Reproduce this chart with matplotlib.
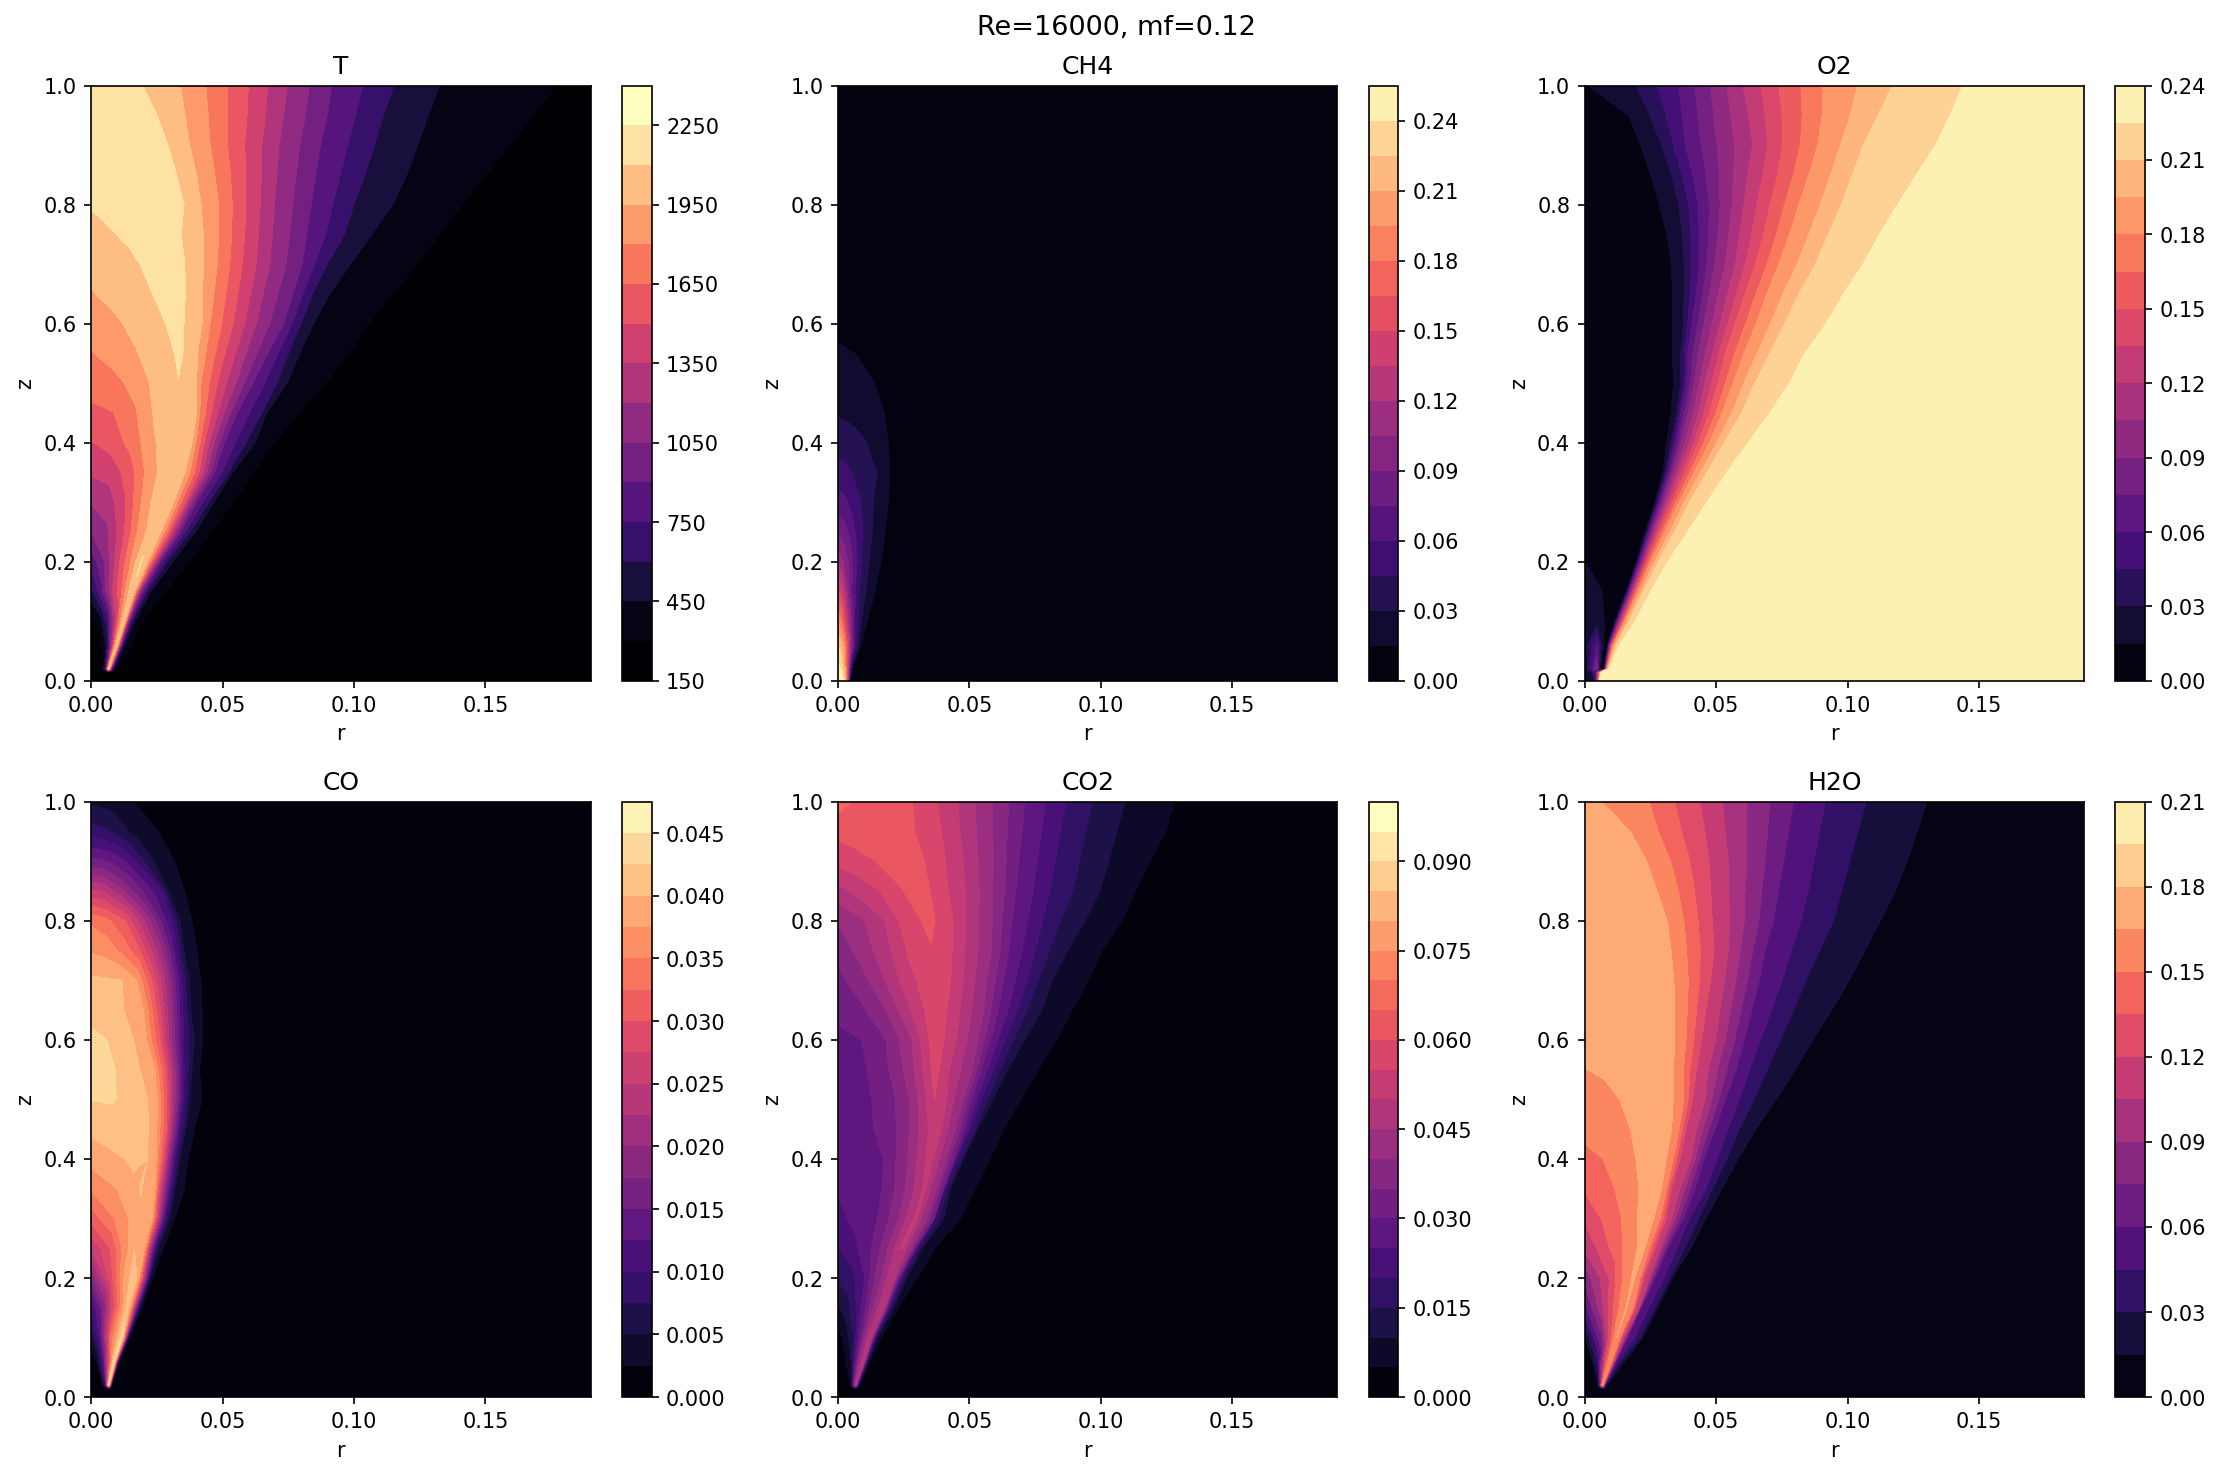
import numpy as np
import matplotlib
matplotlib.use("Agg")
import matplotlib.pyplot as plt

TITLE = "Re=16000, mf=0.12"
R_END = 0.19

# Axial stations shared by most fields, bottom to top.
Z_BASE = [0.0, 0.014]
Z_ROWS = [0.02, 0.06, 0.1, 0.15, 0.2, 0.25, 0.3, 0.35, 0.4, 0.45, 0.5,
          0.55, 0.6, 0.65, 0.7, 0.75, 0.8, 0.85, 0.9, 0.95, 1.0]

# Temperature: radial stations per row, last inner station is the flame ridge.
T_tail = [1950, 1800, 1500, 1200, 900, 600, 450, 300, 160]
T_r = [
    [0, .002, .004, .0055, .0065, .0067, .0069, .0072, .0075, .0078, .0082, .0087, .0100],
    [0, .003, .006, .008, .0095, .0099, .0102, .0106, .0110, .0115, .0120, .0128, .0155],
    [0, .003, .006, .009, .0122, .0128, .0130, .0135, .0139, .0145, .0155, .0166, .0192],
    [0, .0039, .0078, .0116, .0155, .0164, .0169, .0176, .0183, .0195, .0213, .0227, .0284],
    [0, .0048, .0095, .0143, .019, .0213, .0221, .0235, .0248, .0262, .0288, .0310, .0371],
    [0, .0059, .0118, .0176, .0235, .0265, .0279, .0300, .0319, .0340, .0375, .0396, .0457],
    [0, .0064, .0128, .0191, .0255, .0314, .0328, .0357, .0375, .0400, .0448, .0467, .0542],
    [0, .0074, .0148, .0222, .0296, .0357, .0375, .0410, .0440, .0470, .0523, .0537, .0616],
    [0, .0079, .0157, .0236, .0314, .0384, .0398, .0430, .0467, .0506, .0589, .0624, .0697],
    [0, .0083, .0166, .0248, .0331, .0401, .0413, .0457, .0506, .0555, .0649, .0668, .0790],
    [0, .0083, .0166, .0248, .0331, .0401, .0418, .0480, .0550, .0614, .0706, .0745, .0894],
    [0, .0085, .017, .0255, .034, .0405, .0436, .0509, .0588, .0671, .0750, .0793, .0980],
    [0, .0084, .0168, .0251, .0335, .0422, .0453, .0540, .0628, .0732, .0797, .0846, .1055],
    [0, .0082, .0165, .0247, .033, .0424, .0467, .0558, .0654, .0767, .0842, .0907, .1147],
    [0, .0079, .0157, .0236, .0314, .0427, .0480, .0575, .0680, .0802, .0898, .0987, .1240],
    [0, .007, .014, .021, .028, .0427, .0485, .0584, .0689, .0820, .0964, .1067, .1325],
    [0, .0075, .015, .0225, .030, .0418, .0485, .0589, .0697, .0837, .0999, .1147, .1412],
    [0, .0065, .013, .0195, .026, .0401, .0471, .0589, .0706, .0854, .1041, .1200, .1503],
    [0, .005, .010, .015, .022, .0375, .0453, .0584, .0715, .0872, .1078, .1242, .1594],
    [0, .004, .008, .012, .016, .0357, .0445, .0593, .0732, .0898, .1112, .1283, .1681],
    [0, .003, .006, .008, .010, .0340, .0436, .0598, .0745, .0915, .1151, .1325, .1770],
]
T_inner = [
    [160, 160, 170, 700, 2000],
    [170, 260, 500, 1300, 2030],
    [250, 330, 650, 1300, 2050],
    [550, 850, 1320, 1650, 2090],
    [800, 1040, 1400, 1750, 2110],
    [1050, 1170, 1440, 1805, 2060],
    [1210, 1270, 1480, 1800, 2060],
    [1370, 1410, 1580, 1875, 2060],
    [1490, 1560, 1710, 1930, 2070],
    [1605, 1645, 1780, 1985, 2080],
    [1725, 1750, 1845, 2000, 2095],
    [1790, 1860, 1940, 2030, 2125],
    [1860, 1920, 1990, 2075, 2140],
    [1940, 1990, 2050, 2110, 2165],
    [1990, 2035, 2075, 2145, 2190],
    [2050, 2085, 2125, 2175, 2210],
    [2110, 2150, 2190, 2215, 2225],
    [2160, 2170, 2190, 2215, 2230],
    [2190, 2195, 2205, 2220, 2230],
    [2190, 2195, 2205, 2218, 2225],
    [2190, 2192, 2195, 2198, 2200],
]

# Methane: core decaying along the axis, with its own axial stations.
CH4_z = [0, .03, .06, .1, .15, .2, .25, .3, .35, .4, .45, .5, .55, .6, 1.0]
CH4_r = [
    [0, .001, .002, .003, .0035, .004, .0043, .0045, .005, R_END],
    [0, .001, .002, .003, .0038, .0045, .0052, .0062, .0068, R_END],
    [0, .0012, .0025, .0037, .0048, .0058, .0068, .0087, .0095, R_END],
    [0, .0013, .0026, .0038, .0051, .0064, .0089, .0111, .012, R_END],
    [0, .0018, .0035, .0052, .0068, .0085, .0115, .014, .015, R_END],
    [0, .0019, .0038, .0057, .0073, .0089, .0119, .0163, .0175, R_END],
    [0, .0025, .005, .007, .009, .0105, .013, .0179, .0195, R_END],
    [0, .003, .006, .008, .01, .012, .0145, .0191, .021, R_END],
    [0, .003, .0051, .008, .0105, .013, .0149, .0198, .0215, R_END],
    [0, .003, .006, .0085, .0108, .013, .016, .0191, .0205, R_END],
    [0, .004, .007, .01, .012, .014, .016, .0176, .019, R_END],
    [0, .003, .006, .008, .01, .0115, .013, .014, .016, R_END],
    [0, .001, .002, .003, .004, .005, .0058, .0064, .01, R_END],
    [0, .001, .002, .003, .004, .005, .0058, .0064, .01, R_END],
    [0, .001, .002, .003, .004, .005, .0058, .0064, .01, R_END],
]
CH4_v = [
    [.252, .25, .24, .2, .16, .1, .05, .015, .005, 0],
    [.24, .235, .215, .18, .14, .09, .045, .015, .005, 0],
    [.225, .215, .19, .15, .11, .075, .045, .015, .008, 0],
    [.197, .18, .15, .12, .09, .06, .03, .015, .008, 0],
    [.155, .135, .105, .075, .055, .04, .025, .015, .008, 0],
    [.12, .105, .09, .075, .06, .045, .03, .015, .008, 0],
    [.09, .08, .068, .057, .047, .04, .03, .015, .008, 0],
    [.066, .062, .053, .047, .04, .034, .027, .015, .008, 0],
    [.052, .049, .045, .039, .036, .0325, .03, .015, .008, 0],
    [.037, .036, .034, .032, .03, .026, .021, .015, .008, 0],
    [.0285, .0275, .026, .024, .0225, .02, .0175, .015, .008, 0],
    [.022, .0215, .021, .02, .019, .018, .0165, .015, .008, 0],
    [.0165, .0162, .016, .0157, .0155, .0153, .0151, .015, .008, 0],
    [.012, .012, .012, .0115, .011, .0105, .01, .0095, .006, 0],
    [.001, .001, .001, .001, .001, .001, .001, .001, .001, 0],
]

# Oxygen: inner stations cover the fuel side, the rest follow the front out to ambient air.
O2_tail = [.015, .03, .06, .09, .12, .15, .18, .21, .225, .233]
O2_r = [
    [0, .003, .0042, .0048, .0050, .0051, .0052, .0053, .0054, .0055, .0056, .0057, .0058],
    [0, .003, .0042, .0052, .0056, .0057, .0058, .0059, .0060, .0061, .0062, .0063, .0065],
    [0, .0047, .0058, .0064, .0073, .0074, .0076, .0078, .0080, .0082, .0085, .0089, .0094],
    [0, .0047, .0072, .0080, .0086, .0088, .0091, .0095, .0099, .0103, .0109, .0120, .0132],
    [0, .0045, .0074, .0095, .0114, .0118, .0122, .0129, .0135, .0144, .0152, .0168, .0193],
    [0, .0035, .0066, .0105, .0157, .0160, .0167, .0173, .0182, .0190, .0203, .0223, .0251],
    [0, .002, .004, .0085, .0196, .0200, .0206, .0215, .0226, .0236, .0252, .0279, .0317],
    [0, .005, .012, .018, .0229, .0234, .0243, .0254, .0267, .0284, .0305, .0342, .0391],
    [0, .006, .012, .018, .0267, .0272, .0282, .0295, .0312, .0333, .0358, .0399, .0465],
    [0, .006, .012, .018, .0297, .0305, .0317, .0333, .0355, .0383, .0416, .0465, .0540],
    [0, .006, .012, .018, .0312, .0328, .0345, .0366, .0399, .0432, .0474, .0531, .0622],
    [0, .006, .012, .018, .0328, .0350, .0366, .0394, .0432, .0474, .0523, .0597, .0705],
    [0, .006, .012, .018, .0338, .0366, .0388, .0416, .0457, .0507, .0564, .0647, .0779],
    [0, .006, .012, .018, .0333, .0366, .0391, .0432, .0485, .0535, .0606, .0705, .0837],
    [0, .006, .012, .018, .0333, .0375, .0408, .0454, .0515, .0573, .0652, .0762, .0919],
    [0, .006, .012, .018, .0333, .0378, .0424, .0474, .0543, .0610, .0693, .0815, .0985],
    [0, .006, .012, .018, .0330, .0378, .0436, .0495, .0573, .0650, .0738, .0878, .1059],
    [0, .006, .012, .018, .0312, .0371, .0436, .0507, .0589, .0680, .0779, .0927, .1122],
    [0, .006, .012, .018, .0284, .0358, .0432, .0515, .0606, .0705, .0815, .0977, .1191],
    [0, .006, .012, .018, .0251, .0330, .0411, .0512, .0619, .0734, .0853, .1018, .1262],
    [0, .007, .014, .018, .0213, .0292, .0383, .0503, .0639, .0754, .0886, .1060, .1335],
    [0, .004, .008, .012, .0168, .0248, .0370, .0490, .0622, .0751, .0903, .1117, .1390],
    [0, .0003, .0005, .0008, .0010, .0196, .0358, .0479, .0602, .0738, .0906, .1170, .1439],
]
for row in O2_r:
    row.append(R_END)
O2_base_v = [
    [.018, .022, .06, .12, .14, .16, .18, .19, .2, .21, .22, .225, .23, .233],
    [.018, .03, .07, .14, .16, .17, .18, .19, .2, .21, .22, .225, .23, .233],
]
O2_inner = [
    [.016, .09, .015, .008],
    [.02, .06, .015, .01],
    [.019, .022, .015, .008],
    [.0165, .0175, .015, .006],
    [.015, .0135, .01, .004],
    [.008, .006, .004, .004],
    [.004, .004, .004, .004],
    [.003, .003, .003, .004],
    [.003, .003, .003, .004],
    [.003, .003, .003, .004],
    [.003, .003, .003, .004],
    [.003, .003, .003, .004],
    [.003, .003, .003, .004],
    [.003, .003, .003, .004],
    [.003, .003, .003, .004],
    [.003, .003, .003, .004],
    [.003, .003, .004, .006],
    [.003, .004, .006, .009],
    [.004, .005, .007, .011],
    [.006, .007, .009, .012],
    [.0145, .0146, .0147, .0148],
]

# Carbon monoxide: stations and values listed in full for every row.
CO_r = [
    [0, .004, .0055, .0066, .0069, .0071, .0073, .0075, .0076, .0079, R_END],
    [0, .0022, .0045, .0087, .0092, .0095, .0098, .0101, .0104, .0110, R_END],
    [0, .0035, .0075, .0117, .0123, .0128, .0133, .0138, .0142, .0146, R_END],
    [0, .004, .008, .0138, .0148, .0158, .0168, .0178, .0185, .0193, R_END],
    [0, .0082, .0123, .0168, .0181, .0193, .0205, .0218, .0224, .0234, R_END],
    [0, .0072, .0117, .0165, .0203, .0214, .0227, .0243, .0256, .0275, R_END],
    [0, .0089, .0142, .0195, .0231, .0246, .0262, .0281, .0298, .0316, R_END],
    [0, .0098, .0145, .019, .0243, .0256, .0278, .0303, .0319, .0354, R_END],
    [0, .0129, .0175, .0214, .0247, .0272, .0294, .0319, .0338, .037, R_END],
    [0, .008, .015, .0218, .025, .0285, .031, .0338, .036, .0392, R_END],
    [0, .008, .015, .0215, .0252, .0288, .0319, .0351, .0376, .0421, R_END],
    [0, .0091, .014, .0186, .0243, .0281, .0319, .0354, .0383, .0412, R_END],
    [0, .006, .011, .0161, .0212, .0262, .0307, .0351, .0392, .0425, R_END],
    [0, .006, .0125, .0165, .0199, .025, .0303, .0349, .0379, .0422, R_END],
    [0, .006, .0117, .0174, .0231, .0265, .0294, .0345, .0373, .0417, R_END],
    [0, .006, .0125, .0186, .0229, .0269, .03, .0328, .0353, .0402, R_END],
    [0, .005, .0129, .0175, .0224, .0265, .0307, .0338, .036, .0383, R_END],
    [0, .005, .0123, .016, .0195, .0235, .0269, .0292, .0325, .0354, R_END],
    [0, .004, .008, .012, .015, .0167, .02, .0237, .0275, .0316, R_END],
    [0, .003, .006, .009, .012, .0142, .017, .02, .023, .0255, R_END],
    [0, .003, .006, .008, .01, .012, .014, .015, .0161, .02, R_END],
]
CO_v = [
    [0, 0, .01, .0435, .0375, .03, .02, .01, .005, .0025, 0],
    [.001, .0025, .012, .0435, .0375, .03, .02, .01, .005, .0025, 0],
    [.0048, .0125, .033, .0435, .0375, .03, .02, .01, .005, .0025, 0],
    [.0098, .016, .028, .0415, .0375, .03, .02, .01, .005, .0025, 0],
    [.0175, .03, .0375, .0422, .0375, .03, .02, .01, .005, .0025, 0],
    [.025, .03, .035, .0399, .0375, .03, .02, .01, .005, .0025, 0],
    [.031, .035, .0375, .0395, .0375, .03, .02, .01, .005, .0025, 0],
    [.0353, .0375, .039, .0402, .0375, .03, .02, .01, .005, .0025, 0],
    [.0385, .04, .0408, .04, .0375, .03, .02, .01, .005, .0025, 0],
    [.0405, .0408, .0412, .04, .0375, .03, .02, .01, .005, .0025, 0],
    [.0426, .0428, .0415, .04, .0375, .03, .02, .01, .005, .0025, 0],
    [.0436, .0425, .0412, .04, .0375, .03, .02, .01, .005, .0025, 0],
    [.0432, .0425, .0415, .04, .0375, .03, .02, .01, .005, .0025, 0],
    [.0415, .041, .04, .039, .0375, .03, .02, .01, .005, .0025, 0],
    [.0405, .0403, .04, .0375, .03, .025, .02, .01, .005, .0025, 0],
    [.0372, .0365, .034, .03, .025, .02, .015, .01, .005, .0025, 0],
    [.0345, .0335, .03, .0255, .02, .015, .01, .005, .0035, .0025, 0],
    [.0255, .0245, .02, .0175, .015, .0125, .01, .005, .0035, .0025, 0],
    [.0157, .0153, .0145, .013, .0112, .01, .0075, .005, .0035, .0025, 0],
    [.0085, .0083, .0078, .007, .0058, .005, .0042, .0035, .003, .0025, 0],
    [.0045, .0043, .004, .0038, .0035, .0032, .0028, .0026, .0025, .002, 0],
]

# Carbon dioxide: seven free stations, then fixed levels on the lean side.
CO2_tail = [.04, .03, .02, .015, .01, .005, 0]
CO2_r = [
    [0, .004, .005, .0056, .0061, .0066, .0068, .0070, .0072, .0074, .0076, .0078, .0085],
    [0, .0025, .005, .0065, .008, .0095, .0099, .0102, .0105, .0109, .0112, .0116, .0121],
    [0, .003, .006, .0085, .0105, .0121, .0126, .0131, .0135, .0140, .0145, .0150, .0165],
    [0, .0035, .007, .0105, .0135, .0168, .0175, .0181, .0187, .0195, .0203, .0212, .0229],
    [0, .005, .0102, .014, .0165, .0203, .0212, .0222, .0232, .0242, .0252, .0262, .0301],
    [0, .006, .0119, .0179, .0238, .0248, .0262, .0279, .0292, .0301, .0311, .0321, .0368],
    [0, .0073, .0146, .0219, .0292, .0301, .0315, .0337, .0365, .0368, .0385, .0403, .0466],
    [0, .0082, .0163, .0245, .0326, .0334, .0352, .0375, .0400, .0406, .0418, .0428, .0521],
    [0, .0086, .0173, .0259, .0345, .0362, .0385, .0412, .0441, .0451, .0470, .0476, .0578],
    [0, .0091, .0181, .0272, .0362, .0394, .0418, .0447, .0478, .0502, .0522, .0530, .0629],
    [0, .0092, .0184, .0276, .0368, .0413, .0440, .0475, .0509, .0546, .0569, .0589, .0695],
    [0, .0091, .0183, .0274, .0365, .0385, .0423, .0511, .0545, .0592, .0617, .0644, .0762],
    [0, .0091, .0183, .0274, .0365, .0403, .0451, .0533, .0579, .0636, .0667, .0709, .0830],
    [0, .009, .0181, .0272, .0362, .0414, .0464, .0554, .0610, .0682, .0719, .0776, .0890],
    [0, .009, .0181, .0272, .0362, .0429, .0476, .0566, .0630, .0719, .0761, .0814, .0953],
    [0, .0089, .0178, .0266, .0355, .0434, .0483, .0583, .0650, .0750, .0804, .0874, .1003],
    [0, .0087, .0175, .0262, .0349, .0438, .0485, .0587, .0662, .0779, .0846, .0939, .1080],
    [0, .0078, .0155, .0233, .031, .0419, .0485, .0589, .0677, .0806, .0894, .0996, .1130],
    [0, .0068, .0137, .0205, .0273, .0409, .0476, .0591, .0688, .0827, .0918, .1029, .1185],
    [0, .005, .01, .015, .02, .0394, .0464, .0589, .0700, .0847, .0942, .1061, .1247],
    [0, .005, .012, .02, .0283, .0377, .0455, .0588, .0711, .0868, .0967, .1092, .1279],
]
for row in CO2_r:
    row.append(R_END)
CO2_inner = [
    [0, 0, .005, .02, .035, .047, .045],
    [.0015, .004, .01, .025, .04, .048, .046],
    [.003, .007, .015, .03, .042, .0485, .047],
    [.009, .013, .02, .03, .04, .049, .047],
    [.0155, .018, .025, .035, .04, .0495, .047],
    [.0198, .0235, .029, .0375, .0505, .05, .045],
    [.0235, .0265, .0295, .038, .0505, .05, .045],
    [.0255, .027, .0295, .038, .0505, .05, .045],
    [.0268, .0285, .03, .039, .0515, .05, .045],
    [.0278, .029, .031, .04, .0525, .05, .045],
    [.028, .029, .0315, .0405, .055, .05, .045],
    [.0282, .029, .034, .0425, .0565, .055, .05],
    [.029, .03, .035, .044, .0575, .055, .05],
    [.031, .034, .0398, .0495, .058, .055, .05],
    [.0335, .038, .0452, .0535, .0585, .055, .05],
    [.0365, .042, .048, .0555, .0595, .055, .05],
    [.0405, .044, .0498, .0575, .0615, .055, .05],
    [.048, .0518, .0548, .0592, .0628, .055, .05],
    [.0565, .0578, .0598, .062, .0635, .055, .05],
    [.0615, .0625, .063, .064, .0645, .055, .05],
    [.067, .065, .064, .062, .06, .055, .05],
]

# Water vapour: five free stations, then fixed levels beyond the ridge.
H2O_tail = [.15, .12, .105, .06, .045, .03, .015, 0]
H2O_r = [
    [0, .004, .005, .0058, .0066, .0069, .0071, .0073, .0075, .0077, .0079, .0085],
    [0, .0025, .005, .0075, .0095, .0102, .0108, .0112, .0118, .0127, .0136, .0152],
    [0, .006, .009, .0115, .0121, .0133, .0142, .0149, .0163, .0189, .0210, .0220],
    [0, .007, .0115, .0145, .0159, .0184, .0194, .0207, .0212, .0244, .0267, .0276],
    [0, .0093, .0144, .0178, .0187, .0210, .0225, .0245, .0267, .0302, .0324, .0333],
    [0, .0144, .0199, .0215, .0228, .0245, .0267, .0286, .0315, .0349, .0379, .0403],
    [0, .014, .02, .0235, .0262, .0286, .0309, .0330, .0375, .0398, .0433, .0460],
    [0, .0114, .0206, .0258, .0292, .0311, .0330, .0362, .0419, .0461, .0486, .0522],
    [0, .007, .0194, .0265, .0311, .0337, .0362, .0403, .0453, .0503, .0540, .0583],
    [0, .0087, .0174, .0265, .033, .0359, .0385, .0426, .0495, .0545, .0588, .0650],
    [0, .0065, .0133, .024, .0337, .0377, .0410, .0457, .0535, .0587, .0643, .0728],
    [0, .008, .016, .025, .0337, .0375, .0425, .0470, .0575, .0627, .0694, .0800],
    [0, .008, .016, .025, .0343, .0385, .0445, .0498, .0606, .0668, .0744, .0868],
    [0, .008, .016, .025, .0343, .0390, .0460, .0514, .0635, .0710, .0794, .0939],
    [0, .008, .016, .024, .0339, .0394, .0479, .0531, .0663, .0750, .0841, .1006],
    [0, .008, .016, .024, .0328, .0387, .0492, .0546, .0685, .0785, .0893, .1066],
    [0, .008, .016, .024, .0314, .0377, .0485, .0552, .0717, .0822, .0945, .1124],
    [0, .007, .014, .021, .0276, .0356, .0479, .0546, .0737, .0850, .0977, .1181],
    [0, .006, .012, .018, .0235, .0326, .0473, .0546, .0756, .0871, .1008, .1226],
    [0, .004, .008, .012, .0173, .0279, .0457, .0535, .0775, .0893, .1039, .1264],
    [0, .002, .004, .005, .0064, .0245, .0438, .0523, .0794, .0915, .1070, .1302],
]
for row in H2O_r:
    row.append(R_END)
H2O_inner = [
    [0, 0, .01, .07, .16],
    [.003, .01, .04, .12, .165],
    [.015, .07, .12, .16, .165],
    [.055, .105, .14, .16, .166],
    [.08, .12, .15, .165, .167],
    [.107, .15, .165, .167, .165],
    [.123, .15, .165, .168, .165],
    [.137, .15, .165, .167, .165],
    [.146, .15, .165, .168, .165],
    [.154, .158, .165, .169, .165],
    [.16, .162, .165, .17, .165],
    [.1648, .1665, .17, .172, .165],
    [.168, .171, .173, .173, .165],
    [.172, .175, .176, .175, .165],
    [.175, .177, .178, .175, .165],
    [.177, .179, .178, .174, .165],
    [.178, .18, .178, .172, .165],
    [.178, .179, .177, .172, .165],
    [.178, .178, .175, .17, .165],
    [.174, .174, .172, .17, .165],
    [.168, .167, .166, .1655, .165],
]

T_LEVELS = np.arange(150, 2401, 150)
CH4_LEVELS = np.linspace(0, .255, 18)
O2_LEVELS = np.linspace(0, .24, 17)
CO_LEVELS = np.linspace(0, .0475, 20)
CO2_LEVELS = np.linspace(0, .1, 21)
H2O_LEVELS = np.linspace(0, .21, 15)


def with_base(r_rows, v_rows, floor):
    """Add the two rows beneath the inlet, where the field sits at its floor value."""
    r = np.array(r_rows, dtype=float)
    v = np.array(v_rows, dtype=float)
    z = np.array(Z_BASE + Z_ROWS)
    r = np.vstack([r[0], r[0], r])
    v = np.vstack([np.full(v.shape[1], floor), np.full(v.shape[1], floor), v])
    return r, np.tile(z[:, None], (1, r.shape[1])), v


def end_column(rows):
    return [list(row) + [R_END] for row in rows]


T_field = with_base(end_column(T_r), [row + T_tail for row in T_inner], 160)
CO_field = with_base(CO_r, CO_v, 0)
CO2_field = with_base(CO2_r, [row + CO2_tail for row in CO2_inner], 0)
H2O_field = with_base(H2O_r, [row + H2O_tail for row in H2O_inner], 0)

r_ch4 = np.array(CH4_r)
CH4_field = (r_ch4, np.tile(np.array(CH4_z)[:, None], (1, r_ch4.shape[1])), np.array(CH4_v))

r_o2 = np.array(O2_r)
z_o2 = np.array(Z_BASE + Z_ROWS)
v_o2 = np.array(O2_base_v + [row + O2_tail for row in O2_inner])
O2_field = (r_o2, np.tile(z_o2[:, None], (1, r_o2.shape[1])), v_o2)

# Each panel: title, field, contour levels, colour limits.
panels = [
    ("T", T_field, T_LEVELS, (300, 2300)),
    ("CH4", CH4_field, CH4_LEVELS, (0, .255)),
    ("O2", O2_field, O2_LEVELS, (0, .24)),
    ("CO", CO_field, CO_LEVELS, (0, .0475)),
    ("CO2", CO2_field, CO2_LEVELS, (0, .0975)),
    ("H2O", H2O_field, H2O_LEVELS, (0, .21)),
]

fig, axes = plt.subplots(2, 3, figsize=(15, 10))
for ax, (name, (rr, zz, vv), levels, limits) in zip(axes.flat, panels):
    cf = ax.contourf(rr, zz, vv, levels=levels, cmap="magma", vmin=limits[0], vmax=limits[1])
    fig.colorbar(cf, ax=ax)
    ax.set_xlim(0, R_END)
    ax.set_ylim(0, 1)
    ax.set_title(name)
    ax.set_xlabel("r")
    ax.set_ylabel("z")

fig.suptitle(TITLE, fontsize=13)
fig.tight_layout(rect=(0, 0, 1, 1.003))
fig.savefig("out.png", dpi=150, bbox_inches="tight")
